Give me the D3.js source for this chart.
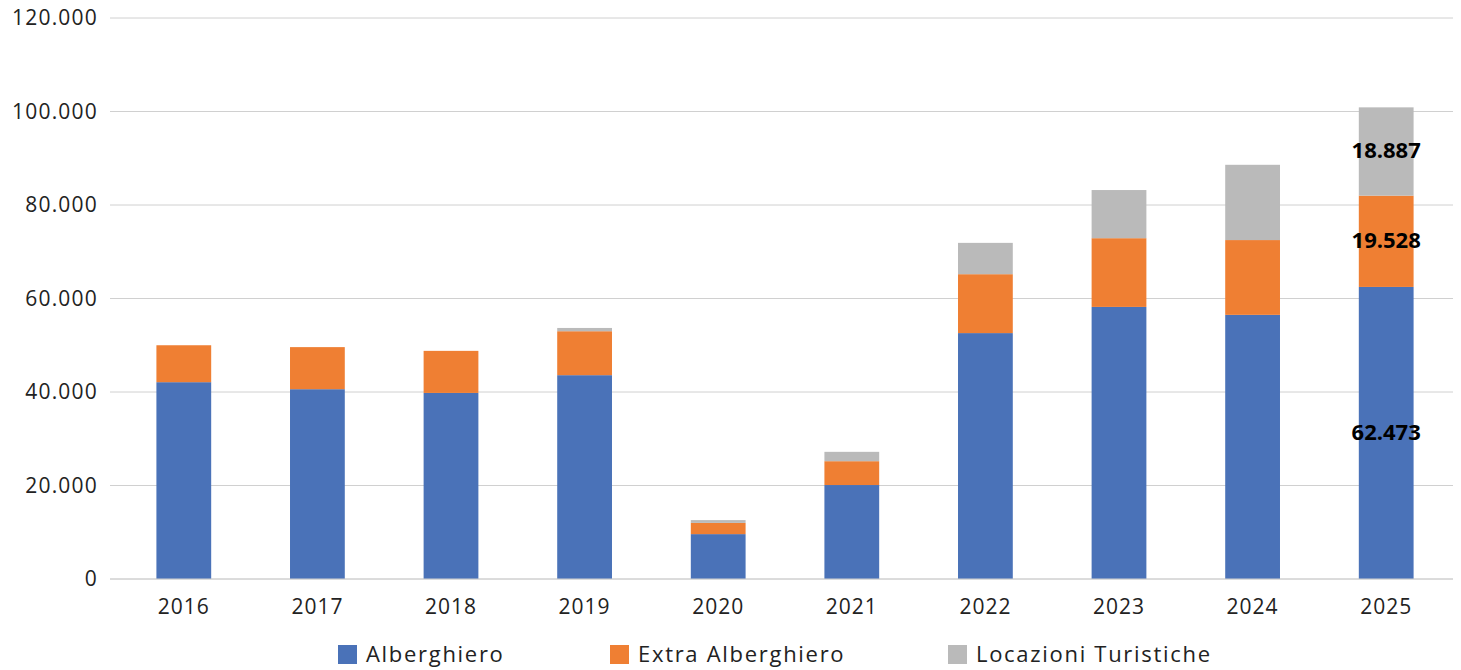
<!DOCTYPE html><html><head><meta charset="utf-8">
<script src="https://cdn.jsdelivr.net/npm/d3@7"></script>
<style>body{margin:0;background:#fff}svg{font-family:"Open Sans",sans-serif}</style></head><body>
<svg id="c" width="1461" height="670"></svg>
<script>
const years=["2016","2017","2018","2019","2020","2021","2022","2023","2024","2025"];
const alberghiero=[42100,40600,39800,43600,9600,20100,52600,58200,56500,62473];
const extra=[7900,9000,9000,9400,2400,5100,12600,14700,16000,19528];
const locazioni=[0,0,0,700,600,2000,6700,10300,16100,18887];
const yTicks=[0,20000,40000,60000,80000,100000,120000];
const seriesNames=["Alberghiero","Extra Alberghiero","Locazioni Turistiche"];
const colors=["#4a72b8","#ef7f33","#bababa"];
const svg=d3.select("#c");
const x=d3.scaleBand().domain(years).range([117,1453]).paddingInner(0.59).paddingOuter(0.295);
const y=d3.scaleLinear().domain([0,120000]).range([579,18]);
const fmt=v=>d3.format(",")(v).replace(/,/g,".");
svg.append("g").selectAll("line").data(yTicks).join("line")
 .attr("x1",110).attr("x2",1453).attr("y1",d=>y(d)).attr("y2",d=>y(d)).attr("stroke","#d0d0d0");
svg.append("g").selectAll("text").data(yTicks).join("text")
 .attr("x",98).attr("y",d=>y(d)+7).attr("text-anchor","end").attr("font-size",21).attr("letter-spacing",1.2).attr("fill","#222").text(fmt);
const data=years.map((yr,i)=>({yr,Alberghiero:alberghiero[i],"Extra Alberghiero":extra[i],"Locazioni Turistiche":locazioni[i]}));
const stack=d3.stack().keys(seriesNames)(data);
stack.forEach((s,k)=>{
 svg.append("g").selectAll("rect").data(s).join("rect")
  .attr("x",d=>x(d.data.yr)).attr("width",x.bandwidth())
  .attr("y",d=>y(d[1])).attr("height",d=>y(d[0])-y(d[1])).attr("fill",colors[k]);
});
stack.forEach((s,k)=>{
 const d=s[9];
 svg.append("text").attr("x",x(d.data.yr)+x.bandwidth()/2).attr("y",(y(d[0])+y(d[1]))/2+7)
  .attr("text-anchor","middle").attr("font-size",22).attr("font-weight","bold").attr("fill","#000").text(fmt(d[1]-d[0]));
});
svg.append("line").attr("x1",110).attr("x2",1453).attr("y1",579).attr("y2",579).attr("stroke","#d0d0d0");
svg.append("g").selectAll("text").data(years).join("text")
 .attr("x",d=>x(d)+x.bandwidth()/2).attr("y",614).attr("text-anchor","middle").attr("font-size",21).attr("letter-spacing",1).attr("fill","#222").text(d=>d);
const lx=[338,610,948];
seriesNames.forEach((n,i)=>{
 svg.append("rect").attr("x",lx[i]).attr("y",645).attr("width",19).attr("height",19).attr("fill",colors[i]);
 svg.append("text").attr("x",lx[i]+28).attr("y",662).attr("font-size",22).attr("letter-spacing",1.7).attr("fill","#222").text(n);
});
</script></body></html>
